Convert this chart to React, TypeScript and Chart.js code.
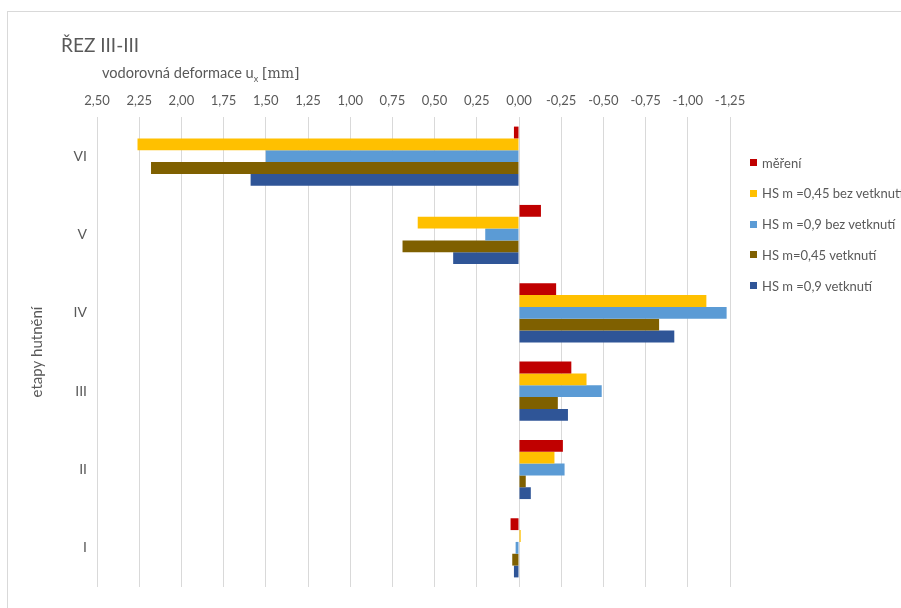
import React, { useEffect, useRef } from "react";
import { Chart, registerables } from "chart.js";

Chart.register(...registerables);

const categories = ["VI", "V", "IV", "III", "II", "I"];
const seriesNames = [
  "měření",
  "HS m =0,45 bez vetknutí",
  "HS m =0,9 bez vetknutí",
  "HS m=0,45 vetknutí",
  "HS m =0,9 vetknutí",
];
const seriesColors = ["#C00000", "#FFC000", "#5B9BD5", "#7F6000", "#2F5597"];
const mereni = [0.03, -0.13, -0.22, -0.31, -0.26, 0.05];
const hs045bez = [2.26, 0.6, -1.11, -0.4, -0.21, -0.01];
const hs09bez = [1.5, 0.2, -1.23, -0.49, -0.27, 0.02];
const hs045vet = [2.18, 0.69, -0.83, -0.23, -0.04, 0.04];
const hs09vet = [1.59, 0.39, -0.92, -0.29, -0.07, 0.03];
const seriesValues = [mereni, hs045bez, hs09bez, hs045vet, hs09vet];

const xMin = -1.25;
const xMax = 2.5;
const xStep = 0.25;

const FONT = "Lato, 'Open Sans', sans-serif";
const TEXT = "#595959";

export default function App() {
  const canvasRef = useRef<HTMLCanvasElement | null>(null);

  useEffect(() => {
    const canvas = canvasRef.current;
    if (!canvas) return;
    const chart = new Chart(canvas, {
      type: "bar",
      data: {
        labels: categories,
        datasets: seriesValues.map((vals, i) => ({
          label: seriesNames[i],
          data: vals,
          backgroundColor: seriesColors[i],
          borderWidth: 0,
          barPercentage: 1,
          categoryPercentage: 0.755,
        })),
      },
      options: {
        indexAxis: "y",
        animation: false,
        responsive: false,
        devicePixelRatio: 1,
        layout: { padding: { left: 28, right: 171, top: 80, bottom: 21 } },
        plugins: {
          legend: { display: false },
          tooltip: { enabled: false },
          title: { display: false },
        },
        scales: {
          x: {
            type: "linear",
            position: "top",
            reverse: true,
            min: xMin,
            max: xMax,
            afterFit: (s: any) => {
              s.height = 37;
            },
            ticks: {
              stepSize: xStep,
              padding: 8,
              color: TEXT,
              font: { family: FONT, size: 13 },
              callback: (v: any) => Number(v).toFixed(2).replace(".", ","),
            },
            grid: {
              color: "#d9d9d9",
              lineWidth: 1,
              drawTicks: false,
            },
            border: { display: false },
          },
          y: {
            type: "category",
            afterFit: (s: any) => {
              s.width = 69;
            },
            ticks: {
              padding: 10,
              color: TEXT,
              font: { family: FONT, size: 14 },
            },
            grid: { display: false, drawTicks: false },
            border: { display: false },
            title: {
              display: true,
              text: "etapy hutnění",
              color: TEXT,
              font: { family: FONT, size: 15 },
              padding: { top: 0, bottom: 0 },
            },
          },
        },
      },
    });
    return () => chart.destroy();
  }, []);

  return (
    <div
      style={{
        position: "absolute",
        left: 0,
        top: 0,
        width: 901,
        height: 608,
        overflow: "hidden",
        background: "#fff",
        fontFamily: FONT,
        color: TEXT,
      }}
    >
      <div
        style={{
          position: "absolute",
          left: 7,
          top: 11,
          width: 1000,
          height: 800,
          border: "1px solid #d9d9d9",
        }}
      />
      <canvas
        ref={canvasRef}
        width={901}
        height={608}
        style={{ position: "absolute", left: 0, top: 0, display: "block" }}
      />
      <div
        style={{
          position: "absolute",
          left: 61,
          top: 33,
          fontSize: 19,
          lineHeight: "24px",
          whiteSpace: "nowrap",
        }}
      >
        ŘEZ III-III
      </div>
      <div
        style={{
          position: "absolute",
          left: 102,
          top: 64,
          fontSize: 14.6,
          lineHeight: "18px",
          whiteSpace: "nowrap",
        }}
      >
        vodorovná deformace u<sub style={{ fontSize: 9 }}>x</sub>{" "}
        <span style={{ fontFamily: "'DejaVu Serif', 'Liberation Serif', serif", fontSize: 14 }}>[mm]</span>
      </div>
      {seriesNames.map((name, i) => (
        <div
          key={name}
          style={{
            position: "absolute",
            left: 750,
            top: 162.5 + i * 30.8 - 9,
            height: 18,
            display: "flex",
            alignItems: "center",
            whiteSpace: "nowrap",
            fontSize: 13,
          }}
        >
          <span
            style={{
              display: "inline-block",
              width: 7,
              height: 7,
              background: seriesColors[i],
              marginRight: 5,
            }}
          />
          {name}
        </div>
      ))}
    </div>
  );
}
